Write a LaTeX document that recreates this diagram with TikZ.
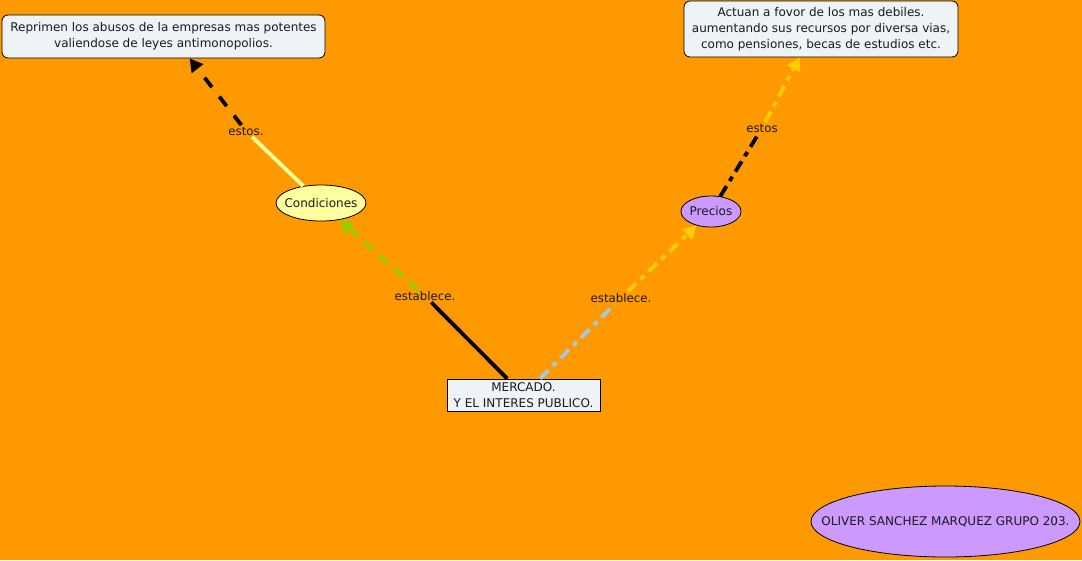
\documentclass[tikz,border=0pt]{standalone}
\usepackage{fontspec}
\setmainfont{DejaVu Sans}
\usetikzlibrary{shapes.geometric,arrows.meta}
\definecolor{bg}{HTML}{FF9900}
\definecolor{boxfill}{HTML}{EEF3F7}
\definecolor{paleyel}{HTML}{FFFFA0}
\definecolor{lilac}{HTML}{CC99FF}
\definecolor{grn}{HTML}{99CC00}
\definecolor{ltblue}{HTML}{A0C8E8}
\definecolor{gold}{HTML}{FFCC00}
\definecolor{lineyel}{HTML}{FFFF99}
\definecolor{txt}{HTML}{1A1A1A}
\tikzset{
  every node/.style={font=\fontsize{12}{16}\selectfont, text=txt},
  roundbox/.style={draw=black, line width=0.8pt, fill=boxfill, rounded corners=6pt, align=center, inner sep=0pt},
  sqbox/.style={draw=black, line width=0.8pt, fill=boxfill, align=center, inner sep=0pt},
  ellbox/.style={ellipse, draw=black, line width=0.8pt, inner sep=0pt},
  lab/.style={inner sep=1.5pt, font=\fontsize{11.8}{13}\selectfont},
  conn/.style={line width=3.8pt},
  tip/.style={-{Triangle[length=13pt,width=14pt]}},
  dashA/.style={dash pattern=on 12pt off 12pt},
  dashB/.style={dash pattern=on 12pt off 8pt},
  dashdot/.style={dash pattern=on 12pt off 6pt on 5pt off 6pt},
}
\begin{document}
\begin{tikzpicture}[x=1pt,y=-1pt]
\fill[bg] (0,0) rectangle (1082,560);
\useasboundingbox (0,0) rectangle (1082,560);

\node[roundbox, minimum width=323pt, minimum height=43pt] (tl) at (163.5,36.5)
  {Reprimen los abusos de la empresas mas potentes\\valiendose de leyes antimonopolios.};
\node[roundbox, minimum width=274pt, minimum height=56pt] (tr) at (821,29)
  {Actuan a fovor de los mas debiles.\\aumentando sus recursos por diversa vias,\\como pensiones, becas de estudios etc.};
\node[ellbox, fill=paleyel, minimum width=90pt, minimum height=36pt,
  label={center:Condiciones}] (cond) at (321,203) {};
\node[ellbox, fill=lilac, minimum width=60pt, minimum height=31pt,
  label={center:Precios}] (prec) at (711,211.5) {};
\node[sqbox, minimum width=153pt, minimum height=32pt] (merc) at (523.5,395)
  {MERCADO.\\Y EL INTERES PUBLICO.};
\node[ellbox, fill=lilac, minimum width=269pt, minimum height=71pt,
  label={center:OLIVER SANCHEZ MARQUEZ GRUPO 203.}] (oliver) at (945.5,521.5) {};

\node[lab] (l1) at (425,296) {establece.};
\node[lab] (l2) at (621,298) {establece.};
\node[lab] (l3) at (246,131) {estos.};
\node[lab] (l4) at (762,128) {estos};

\draw[conn, black] (merc) -- (l1);
\draw[conn, grn, dashB, tip] (l1) -- (cond);
\draw[conn, ltblue, dashdot] (merc) -- (l2);
\draw[conn, gold, dashdot, tip] (l2) -- (prec);
\draw[conn, lineyel] (cond) -- (l3);
\draw[conn, black, dashA, tip] (l3) -- (tl.-40);
\draw[conn, black, dashdot] (prec) -- (l4);
\draw[conn, gold, dashdot, tip] (l4) -- (tr.-127);
\end{tikzpicture}
\end{document}
